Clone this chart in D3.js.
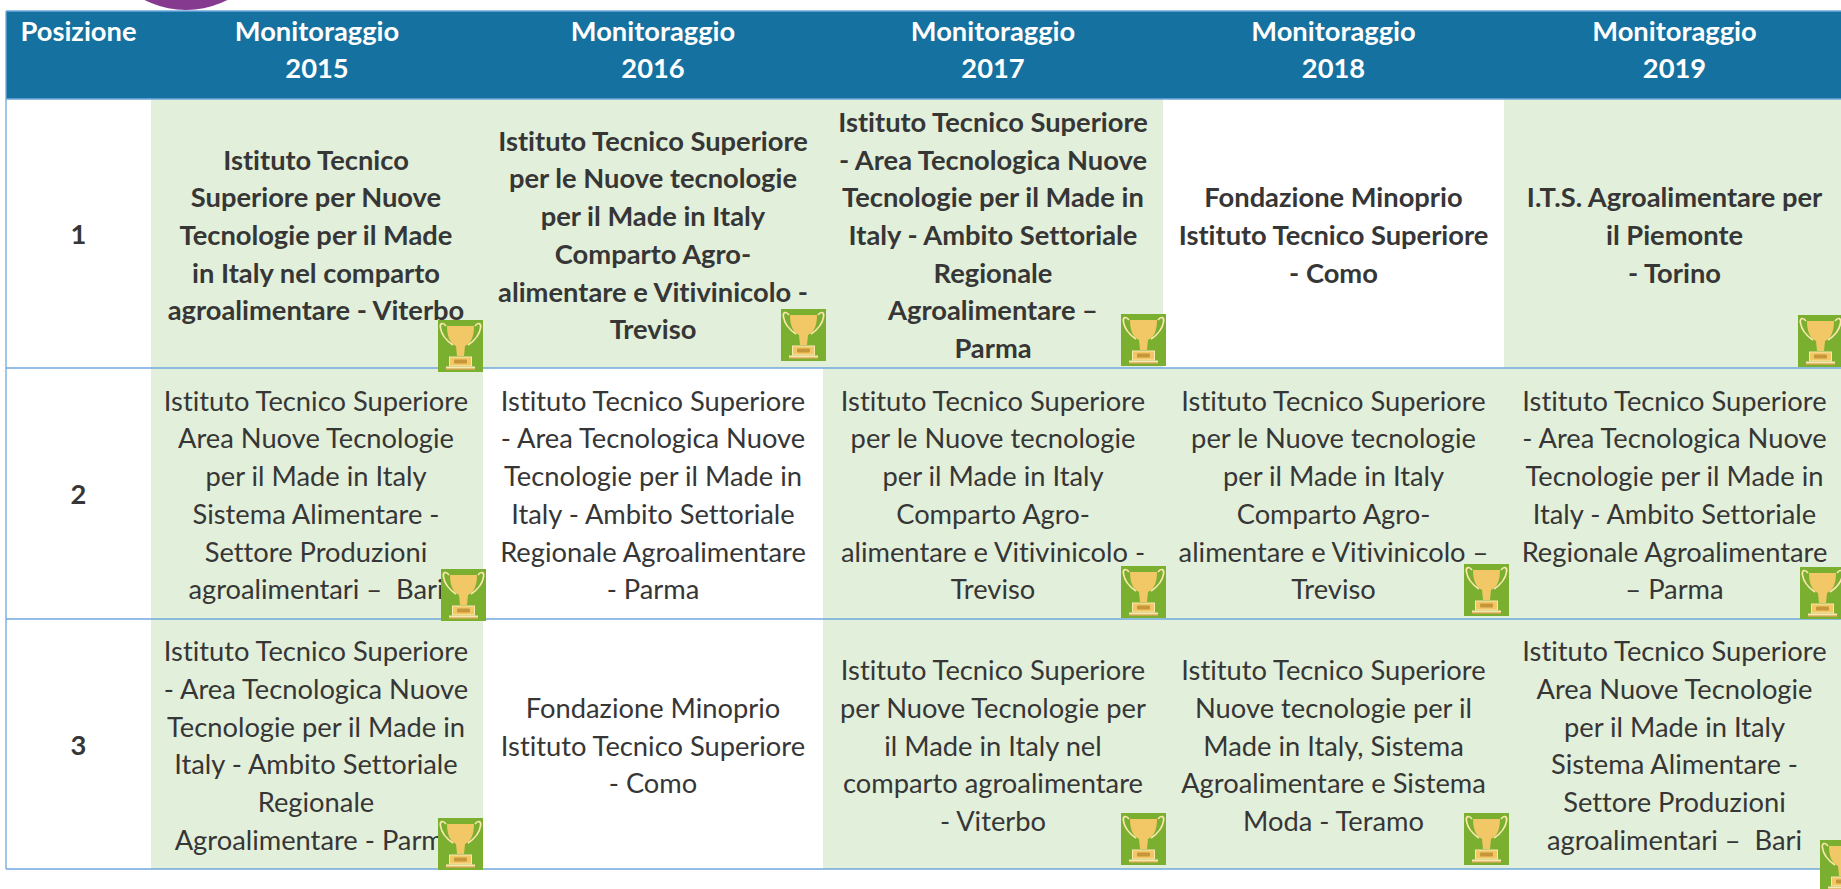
<!DOCTYPE html>
<html><head><meta charset="utf-8">
<script src="https://cdn.jsdelivr.net/npm/d3@7/dist/d3.min.js"></script>
<style>html,body{margin:0;padding:0;background:#fff;overflow:hidden}svg{display:block}text{font-variant-ligatures:none}</style>
</head><body><svg id="c" width="1841" height="889"></svg>
<script>
const headerFirst = "Posizione";
const headerWord = "Monitoraggio";
const years = ["2015","2016","2017","2018","2019"];
const positions = ["1","2","3"];
const row1Lines = [
 ["Istituto Tecnico","Superiore per Nuove","Tecnologie per il Made","in Italy nel comparto","agroalimentare - Viterbo"],
 ["Istituto Tecnico Superiore","per le Nuove tecnologie","per il Made in Italy","Comparto Agro-","alimentare e Vitivinicolo -","Treviso"],
 ["Istituto Tecnico Superiore","- Area Tecnologica Nuove","Tecnologie per il Made in","Italy - Ambito Settoriale","Regionale","Agroalimentare –","Parma"],
 ["Fondazione Minoprio","Istituto Tecnico Superiore","- Como"],
 ["I.T.S. Agroalimentare per","il Piemonte","- Torino"]
];
const row2Lines = [
 ["Istituto Tecnico Superiore","Area Nuove Tecnologie","per il Made in Italy","Sistema Alimentare -","Settore Produzioni","agroalimentari –  Bari"],
 ["Istituto Tecnico Superiore","- Area Tecnologica Nuove","Tecnologie per il Made in","Italy - Ambito Settoriale","Regionale Agroalimentare","- Parma"],
 ["Istituto Tecnico Superiore","per le Nuove tecnologie","per il Made in Italy","Comparto Agro-","alimentare e Vitivinicolo -","Treviso"],
 ["Istituto Tecnico Superiore","per le Nuove tecnologie","per il Made in Italy","Comparto Agro-","alimentare e Vitivinicolo –","Treviso"],
 ["Istituto Tecnico Superiore","- Area Tecnologica Nuove","Tecnologie per il Made in","Italy - Ambito Settoriale","Regionale Agroalimentare","– Parma"]
];
const row3Lines = [
 ["Istituto Tecnico Superiore","- Area Tecnologica Nuove","Tecnologie per il Made in","Italy - Ambito Settoriale","Regionale","Agroalimentare - Parma"],
 ["Fondazione Minoprio","Istituto Tecnico Superiore","- Como"],
 ["Istituto Tecnico Superiore","per Nuove Tecnologie per","il Made in Italy nel","comparto agroalimentare","- Viterbo"],
 ["Istituto Tecnico Superiore","Nuove tecnologie per il","Made in Italy, Sistema","Agroalimentare e Sistema","Moda - Teramo"],
 ["Istituto Tecnico Superiore","Area Nuove Tecnologie","per il Made in Italy","Sistema Alimentare -","Settore Produzioni","agroalimentari –  Bari"]
];
const row1Award = [1,1,1,0,1];
const row2Award = [1,0,1,1,1];
const row3Award = [1,0,1,1,1];

const rowLines=[row1Lines,row2Lines,row3Lines], rowAward=[row1Award,row2Award,row3Award];
const svg=d3.select("#c");
const FONT="Lato", SIZE=27.3, LH=37.7, INK="#363636";
const x=d3.scaleLinear().domain([0,1,2,3,4,5,6]).range([6,151,483,823,1163,1504,1845]);
const y=d3.scaleLinear().domain([0,1,2,3,4]).range([11,99,368,619,869]);
// trophy corner, relative to the cell's right/bottom edge, per row/col
const tOff=[[[-45,4],[-42,-7],[-42,-2],[0,0],[-47,-1]],
            [[-42,2],[0,0],[-42,-1],[-40,-3],[-45,0]],
            [[-45,1],[0,0],[-42,-4],[-40,-4],[-25,23]]];

// purple disc peeking above the table
svg.append("clipPath").attr("id","top").append("rect").attr("width",1841).attr("height",y(0));
svg.append("circle").attr("clip-path","url(#top)").attr("cx",186).attr("cy",-81).attr("r",91).attr("fill","#85398f");

// header
svg.append("rect").attr("x",x(0)).attr("y",y(0)).attr("width",1841-x(0)).attr("height",y(1)-y(0)).attr("fill","#15719f");
function txt(s,cx,cy,bold,fill){
  return svg.append("text").attr("x",cx).attr("y",cy).attr("text-anchor","middle").attr("dominant-baseline","central")
   .attr("font-family",FONT).attr("font-size",SIZE).attr("font-weight",bold?700:400).attr("fill",fill).style("white-space","pre").text(s);
}
txt(headerFirst,(x(0)+x(1))/2,30,true,"#fff");
years.forEach((yr,i)=>{const cx=(x(i+1)+x(i+2))/2;txt(headerWord,cx,30,true,"#fff");txt(yr,cx,67,true,"#fff");});

// highlight fills
const isGreen=[[1,1,1,0,1],[1,0,1,1,1],[1,0,1,1,1]];
positions.forEach((p,r)=>years.forEach((yr,c)=>{ if(isGreen[r][c]) svg.append("rect").attr("x",x(c+1)).attr("y",y(r+1)).attr("width",x(c+2)-x(c+1)).attr("height",y(r+2)-y(r+1)).attr("fill","#e2efda");}));

// rules
[0,1,2,3,4].forEach(i=>svg.append("line").attr("x1",x(0)).attr("x2",1841).attr("y1",y(i)).attr("y2",y(i)).attr("stroke","#6fa8dc").attr("stroke-width",1.3));
svg.append("line").attr("x1",x(0)).attr("x2",x(0)).attr("y1",y(0)).attr("y2",y(4)).attr("stroke","#6fa8dc").attr("stroke-width",1.3);

// text
positions.forEach((p,r)=>{
  const mid=(y(r+1)+y(r+2))/2+1;
  txt(p,(x(0)+x(1))/2,mid-1,true,INK);
  years.forEach((yr,c)=>{
    const ls=rowLines[r][c], cx=(x(c+1)+x(c+2))/2-(c==0?1:0);
    ls.forEach((s,k)=>txt(s,cx,mid+(k-(ls.length-1)/2)*LH,r===0,INK));
  });
});

// trophies
function trophy(tx,ty){
  const g=svg.append("g").attr("transform",`translate(${tx},${ty})`);
  g.append("rect").attr("width",45).attr("height",52).attr("fill","#7aaf2f");
  const cream="#fbe7b0", gold="#f2c766", dark="#c8963a";
  g.append("path").attr("d","M8 6 C5 2 1.5 3 2.5 8 C3.5 15 9 21 15 25 M37 6 C40 2 43.5 3 42.5 8 C41.5 15 36 21 30 25").attr("fill","none").attr("stroke",cream).attr("stroke-width",1.7);
  g.append("path").attr("d","M9 6 H36 C36 17 33 23 27 26 L26 36 H19 L18 26 C12 23 9 17 9 6 Z").attr("fill",gold);
  g.append("rect").attr("x",11.5).attr("y",37).attr("width",22).attr("height",9).attr("fill",gold).attr("stroke",cream).attr("stroke-width",1);
  g.append("rect").attr("x",16).attr("y",39.5).attr("width",13).attr("height",4).attr("rx",1).attr("fill",dark);
  g.append("rect").attr("x",8).attr("y",46.5).attr("width",29).attr("height",3).attr("fill",cream);
  g.append("rect").attr("x",8).attr("y",48.5).attr("width",29).attr("height",1.2).attr("fill",dark);
}
positions.forEach((p,r)=>years.forEach((yr,c)=>{ if(rowAward[r][c]) trophy(x(c+2)+tOff[r][c][0],y(r+2)-52+tOff[r][c][1]);}));
</script></body></html>
